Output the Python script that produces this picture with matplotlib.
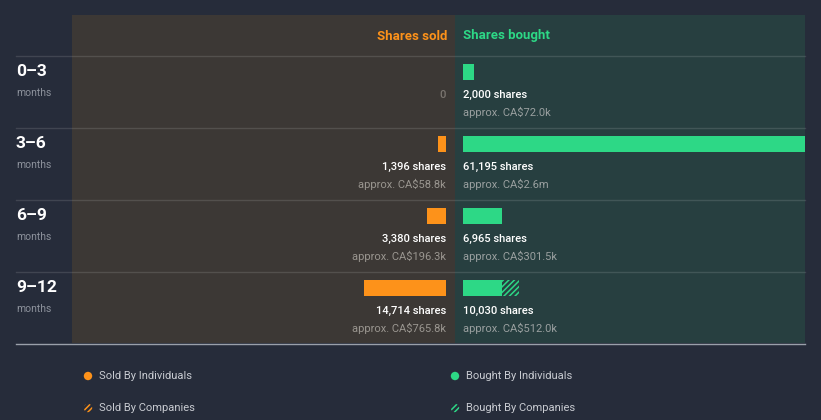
import matplotlib.pyplot as plt
from matplotlib.patches import Rectangle, Circle

plt.rcParams['font.family'] = ['Roboto', 'DejaVu Sans']
plt.rcParams['hatch.linewidth'] = 1.1

# data
periods = ['0–3', '3–6', '6–9', '9–12']
sold_ind = [0, 1396, 3380, 14714]
sold_comp = [0, 0, 0, 0]
sold_shares = ['0', '1,396 shares', '3,380 shares', '14,714 shares']
sold_value = ['', 'approx. CA$58.8k', 'approx. CA$196.3k', 'approx. CA$765.8k']
bought_ind = [2000, 61195, 6965, 7000]
bought_comp = [0, 0, 0, 3030]
bought_shares = ['2,000 shares', '61,195 shares', '6,965 shares', '10,030 shares']
bought_value = ['approx. CA$72.0k', 'approx. CA$2.6m', 'approx. CA$301.5k', 'approx. CA$512.0k']

BG = '#262c3a'
SOLD_BG = '#3c3835'
BUY_BG = '#273f40'
ORANGE = '#fd921a'
GREEN = '#2dd886'

W, H = 821, 420
fig = plt.figure(figsize=(W / 100, H / 100), dpi=100, facecolor=BG)

# background axes in pixel units
bg = fig.add_axes([0, 0, 1, 1])
bg.set_xlim(0, W)
bg.set_ylim(H, 0)
bg.axis('off')
bg.add_patch(Rectangle((72, 15), 383, 328, color=SOLD_BG, lw=0))
bg.add_patch(Rectangle((455, 15), 350, 328, color=BUY_BG, lw=0))

bg.text(447, 36, 'Shares sold', color=ORANGE, fontsize=9.5, fontweight='bold', ha='right', va='center')
bg.text(463, 36, 'Shares bought', color=GREEN, fontsize=9.5, fontweight='bold', ha='left', va='center')

row_top = 56
row_h = 72
for i, p in enumerate(periods):
    y0 = row_top + i * row_h
    bg.plot([16, 805], [y0, y0], color='#ffffff', alpha=0.12, lw=1)
    bg.text(16, y0 + 15.5, p, color='white', fontsize=12.5, fontweight='bold', ha='left', va='center')
    bg.text(16, y0 + 37, 'months', color='#8d929c', fontsize=7.5, ha='left', va='center')
bg.plot([16, 805], [343.5, 343.5], color='#9aa0aa', lw=1)

# legend
leg = [(88, 376, ORANGE, False, 'Sold By Individuals'),
       (88, 408, ORANGE, True, 'Sold By Companies'),
       (455, 376, GREEN, False, 'Bought By Individuals'),
       (455, 408, GREEN, True, 'Bought By Companies')]
for x, y, c, hatched, label in leg:
    if hatched:
        bg.add_patch(Circle((x, y), 4.2, facecolor='none', edgecolor=c, hatch='//////', lw=0))
    else:
        bg.add_patch(Circle((x, y), 4.2, color=c, lw=0))
    bg.text(x + 11, y, label, color='#c8cbd1', fontsize=8, ha='left', va='center')

# bar axes
buy_left, buy_right, sold_right, sold_left = 463, 805, 446, 72
bmax = max(a + b for a, b in zip(bought_ind, bought_comp))
px_per_share = (buy_right - buy_left) / bmax
ax_top, ax_bot = row_top, row_top + row_h * len(periods)

ax_b = fig.add_axes([buy_left / W, 1 - ax_bot / H, (buy_right - buy_left) / W, (ax_bot - ax_top) / H])
ax_s = fig.add_axes([sold_left / W, 1 - ax_bot / H, (sold_right - sold_left) / W, (ax_bot - ax_top) / H])
ax_b.set_xlim(0, bmax)
ax_s.set_xlim((sold_right - sold_left) / px_per_share, 0)
for ax in (ax_b, ax_s):
    ax.set_ylim(len(periods), 0)
    ax.axis('off')
    ax.patch.set_alpha(0)

ypos = [i + 16 / row_h for i in range(len(periods))]
bh = 16 / row_h
ax_b.barh(ypos, bought_ind, height=bh, color=GREEN, lw=0)
ax_b.barh(ypos, bought_comp, left=bought_ind, height=bh, facecolor='none', edgecolor=GREEN, hatch='//////', lw=0)
ax_s.barh(ypos, sold_ind, height=bh, color=ORANGE, lw=0)
ax_s.barh(ypos, sold_comp, left=sold_ind, height=bh, facecolor='none', edgecolor=ORANGE, hatch='//////', lw=0)

for i in range(len(periods)):
    ys = i + 38.5 / row_h
    yv = i + 56.5 / row_h
    ax_b.text(0, ys, bought_shares[i], color='white', fontsize=8, fontweight='medium', ha='left', va='center')
    ax_b.text(0, yv, bought_value[i], color='#9aa0a0', fontsize=8, ha='left', va='center')
    scol = 'white' if sold_ind[i] + sold_comp[i] > 0 else '#7a7570'
    ax_s.text(0, ys, sold_shares[i], color=scol, fontsize=8, fontweight='medium', ha='right', va='center')
    ax_s.text(0, yv, sold_value[i], color='#9a9690', fontsize=8, ha='right', va='center')

fig.savefig('out.png', dpi=100, facecolor=BG)
